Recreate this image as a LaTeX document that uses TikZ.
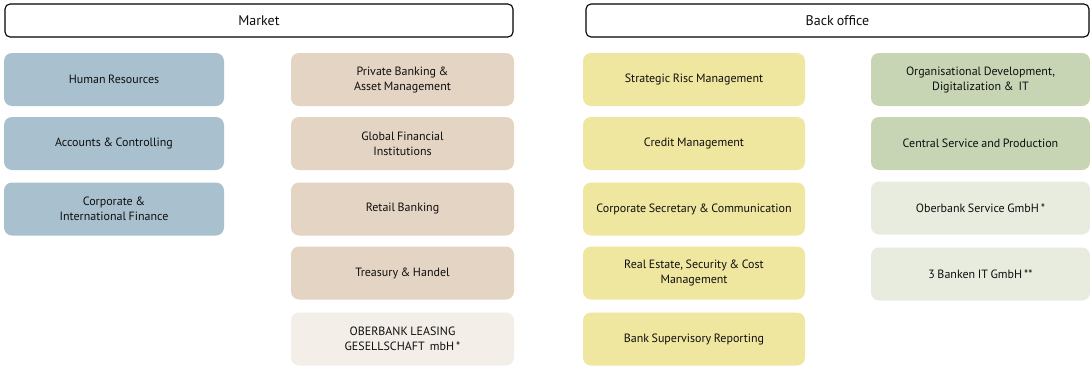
\documentclass[tikz,border=0pt]{standalone}
\usepackage{fontspec}
\setmainfont[WordSpace=0.8]{PT Sans}
\definecolor{cblue}{HTML}{A9C1CF}
\definecolor{cbeige}{HTML}{E4D4C3}
\definecolor{cyel}{HTML}{EFE69F}
\definecolor{cgreen}{HTML}{C8D5B5}
\definecolor{clbeige}{HTML}{F3EEE7}
\definecolor{clgreen}{HTML}{E8ECDF}
\definecolor{ctext}{HTML}{0F0F0F}
\tikzset{
  box/.style={rounded corners=8pt, draw=none, align=center, text=ctext,
    font=\fontsize{12}{15}\selectfont, minimum height=53pt, inner sep=2pt},
  bluebox/.style={box, fill=cblue, minimum width=220pt},
  beigebox/.style={box, fill=cbeige, minimum width=223pt},
  yelbox/.style={box, fill=cyel, minimum width=222pt},
  greenbox/.style={box, fill=cgreen, minimum width=219pt},
  header/.style={rounded corners=5pt, draw=black, line width=1.1pt, fill=white,
    minimum height=33pt, font=\fontsize{14}{16}\selectfont, text=ctext}
}
\begin{document}
\begin{tikzpicture}[x=1pt,y=1pt]
\useasboundingbox (0,0) rectangle (1090,-367);
\node[header, minimum width=508pt] (market) at (259,-20.5) {Market};
\node[header, minimum width=503pt] (back) at (837.5,-20.5) {Back office};
% blue column
\node[bluebox] (hr) at (114,-79.5) {Human Resources};
\node[bluebox] (acc) at (114,-143.5) {Accounts \& Controlling};
\node[bluebox] (cif) at (114,-209) {Corporate \&\\International Finance};
% beige column
\node[beigebox] (pb) at (402.5,-79.5) {Private Banking \&\\Asset Management};
\node[beigebox] (gfi) at (402.5,-143.5) {Global Financial\\Institutions};
\node[beigebox] (rb) at (402.5,-209) {Retail Banking};
\node[beigebox] (th) at (402.5,-273) {Treasury \& Handel};
\node[box, fill=clbeige, minimum width=223pt] (ol) at (402.5,-339) {OBERBANK LEASING\\GESELLSCHAFT~ mbH\,*};
% yellow column
\node[yelbox] (srm) at (694,-79.5) {Strategic Risc Management};
\node[yelbox] (cm) at (694,-143.5) {Credit Management};
\node[yelbox] (csc) at (694,-209) {Corporate Secretary \& Communication};
\node[yelbox] (re) at (694,-273) {Real Estate, Security \& Cost\\Management};
\node[yelbox] (bsr) at (694,-339) {Bank Supervisory Reporting};
% green column
\node[greenbox] (od) at (980.5,-79.5) {Organisational Development,\\Digitalization \&~ IT};
\node[greenbox] (csp) at (980.5,-143.5) {Central Service and Production};
\node[box, fill=clgreen, minimum width=219pt] (osg) at (980.5,-208) {Oberbank Service GmbH\,*};
\node[box, fill=clgreen, minimum width=219pt] (bit) at (980.5,-274) {3 Banken IT GmbH\,**};
\end{tikzpicture}
\end{document}
